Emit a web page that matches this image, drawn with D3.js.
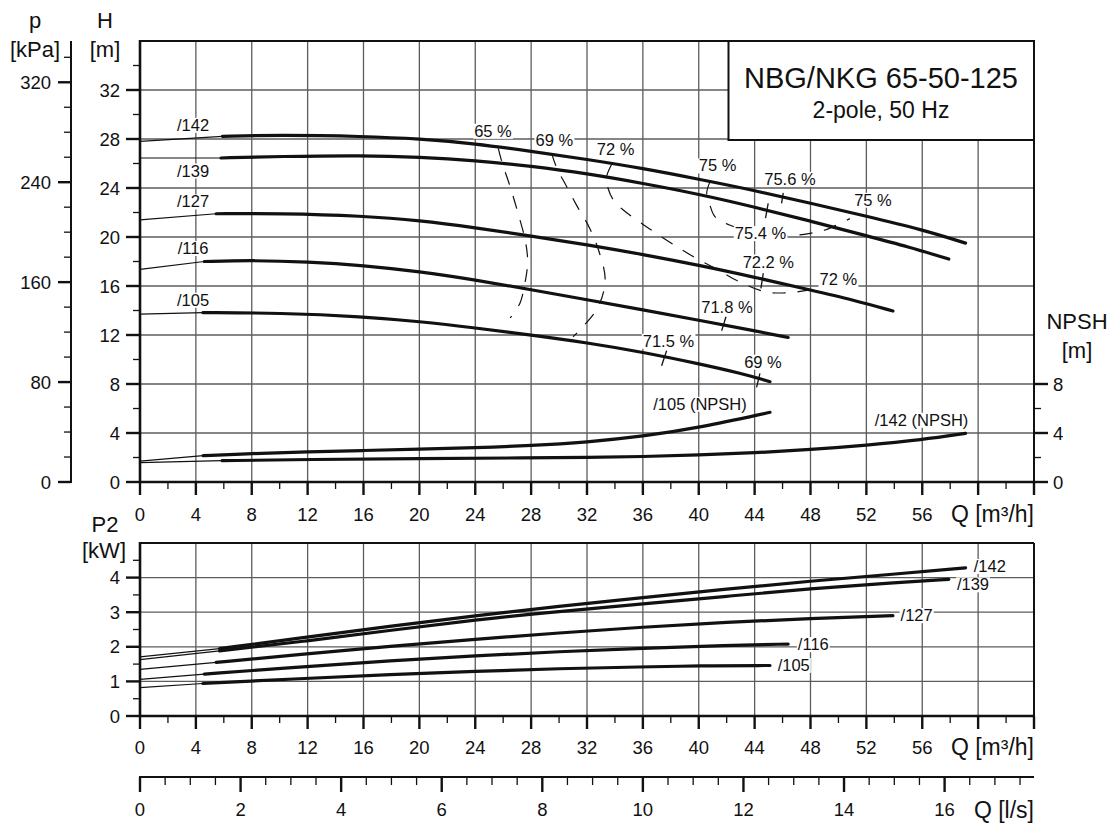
<!DOCTYPE html>
<html><head><meta charset="utf-8">
<script src="https://cdn.jsdelivr.net/npm/d3@7"></script>
<style>
html,body{margin:0;padding:0;background:#fff;}
svg text{font-family:"Liberation Sans",Arial,Helvetica,sans-serif;fill:#111;}
</style></head><body>
<svg id="c" width="1115" height="825"></svg>
<script>
// ---------- tick labels ----------
const qTickLabels = [0,4,8,12,16,20,24,28,32,36,40,44,48,52,56];
const hTickLabels = [0,4,8,12,16,20,24,28,32];
const pTickLabels = [0,80,160,240,320];
const npshTickLabels = [0,4,8];
const p2TickLabels = [0,1,2,3,4];
const lsTickLabels = [0,2,4,6,8,10,12,14,16];

// ---------- series: [Q m3/h, value]; first point = zero-flow (thin extension) ----------
const impellers = ["/142","/139","/127","/116","/105"];
const head142 = [[0,27.8],[5.9,28.22],[10,28.33],[16,28.22],[20,28.02],[24,27.62],[28,27.0],[32,26.34],[36,25.6],[40,24.72],[44,23.8],[48,22.75],[52,21.7],[56,20.6],[59.1,19.5]];
const head139 = [[0,26.45],[5.8,26.45],[10,26.58],[16,26.66],[20,26.53],[24,26.25],[28,25.78],[32,25.18],[36,24.38],[40,23.5],[44,22.45],[48,21.3],[52,20.1],[55,19.2],[57.9,18.2]];
const head127 = [[0,21.4],[5.45,21.9],[10,21.93],[16,21.72],[20,21.36],[24,20.76],[28,20.08],[32,19.38],[36,18.58],[40,17.7],[44,16.72],[48,15.67],[51,14.88],[53.9,13.96]];
const head116 = [[0,17.35],[4.6,18.0],[8,18.1],[12,17.98],[16,17.68],[20,17.18],[24,16.5],[28,15.7],[32,14.88],[36,14.05],[40,13.2],[44,12.35],[46.4,11.8]];
const head105 = [[0,13.7],[4.5,13.83],[10,13.8],[16,13.5],[20,13.1],[24,12.58],[28,12.0],[32,11.37],[36,10.6],[40,9.65],[43,8.88],[45.1,8.19]];

const npsh105 = [[0,1.71],[4.52,2.15],[8,2.33],[12,2.46],[16,2.57],[20,2.68],[24,2.8],[28,2.97],[32,3.25],[36,3.72],[40,4.42],[45.1,5.69]];
const npsh142 = [[0,1.58],[5.88,1.74],[12,1.84],[20,1.92],[28,1.97],[32,2.0],[36,2.07],[40,2.2],[44,2.38],[48,2.65],[52,3.0],[56,3.45],[59.1,3.97]];

const power142 = [[0,1.71],[5.7,1.95],[12,2.28],[18,2.6],[24,2.9],[30,3.17],[36,3.42],[42,3.67],[48,3.9],[54,4.1],[59.1,4.28]];
const power139 = [[0,1.63],[5.7,1.88],[12,2.17],[18,2.48],[24,2.78],[30,3.02],[36,3.24],[42,3.46],[48,3.68],[54,3.85],[57.9,3.95]];
const power127 = [[0,1.35],[5.45,1.55],[11.45,1.78],[18,2.02],[24,2.22],[30,2.4],[36,2.57],[42,2.71],[48,2.82],[53.9,2.9]];
const power116 = [[0,1.06],[4.6,1.21],[11.45,1.42],[18,1.6],[24,1.74],[30,1.86],[36,1.96],[42,2.04],[46.4,2.08]];
const power105 = [[0,0.82],[4.5,0.94],[11.45,1.08],[18,1.2],[24,1.29],[30,1.37],[36,1.42],[40,1.45],[45.1,1.46]];

// efficiency iso-lines [Q, H]
const eff65 = [[25.65,27.24],[25.9,26.15],[26.5,24.1],[27.1,21.8],[27.6,19.6],[27.75,18.0],[27.6,16.5],[27.2,14.6],[26.5,13.4]];
const eff69 = [[29.47,26.83],[29.8,25.74],[30.5,24.2],[31.25,22.6],[32.2,20.7],[32.9,18.67],[33.3,16.5],[32.8,14.3],[31.6,12.55],[31.0,11.86]];
const eff72 = [[33.8,26.0],[33.4,24.9],[33.5,24.0],[33.9,23.0],[34.6,22.2],[36.3,20.8],[37.9,19.6],[39.6,18.4],[41.4,17.3],[42.9,16.35],[44.9,15.5],[46.9,15.5],[48.0,15.7]];
const eff75 = [[40.8,24.5],[40.57,23.57],[40.8,22.6],[41.16,21.66],[42.2,20.98],[44.4,20.3],[46.3,20.1],[47.96,20.3],[49.03,20.57],[50.82,21.5]];
// short best-efficiency marks on the curves [Q,H] pairs
const effTicks = [
  [[46.05,23.6],[45.93,22.75]],
  [[44.97,22.75],[44.78,21.55]],
  [[44.62,17.04],[44.45,15.81]],
  [[41.95,13.49],[41.64,12.35]],
  [[37.7,10.72],[37.34,9.49]],
  [[44.38,8.87],[44.14,7.73]]
];
const effLabelText = ["65 %","69 %","72 %","75 %","75.6 %","75 %","75.4 %","72.2 %","72 %","71.8 %","71.5 %","69 %"];
const effLabelQ    = [25.27,29.66,34.05,41.35,46.53,52.47,44.42,44.98,49.99,42.02,37.83,44.6];
const effLabelH    = [28.65,27.92,27.18,25.82,24.73,23.02,20.3,17.98,16.55,14.29,11.51,9.8];

const headLabelQ = 3.8;
const headLabelH = [29.14,25.41,22.88,19.08,14.86];
const npshLabelText = ["/105 (NPSH)","/142 (NPSH)"];
const npshLabelQ = [40.09,55.95];
const npshLabelH = [6.37,5.06];
const powerLabelQ = [60.84,59.63,55.6,48.2,46.8];
const powerLabelP = [4.33,3.8,2.91,2.07,1.47];

// ---------- scales ----------
const svg = d3.select("#c");
const x   = d3.scaleLinear().domain([0,64]).range([140,1034]);
const yH  = d3.scaleLinear().domain([0,36]).range([482,41]);
const yKpa= d3.scaleLinear().domain([0,36*9.80665]).range([482,41]);
const yPw = d3.scaleLinear().domain([0,5]).range([716,543]);
const xLs = d3.scaleLinear().domain([0,64/3.6]).range([140,1034]);

const gGrid = svg.append("g");
const gEff = svg.append("g");
const gLab = svg.append("g");
const gCurve = svg.append("g");
const gAx = svg.append("g");

const GRID = "#5c5c5c";
d3.range(4,64,4).forEach(q=>{
  gGrid.append("line").attr("x1",x(q)).attr("x2",x(q)).attr("y1",yH(0)).attr("y2",yH(36)).attr("stroke",GRID).attr("stroke-width",1.3);
  gGrid.append("line").attr("x1",x(q)).attr("x2",x(q)).attr("y1",yPw(0)).attr("y2",yPw(5)).attr("stroke",GRID).attr("stroke-width",1.3);
});
d3.range(4,36,4).forEach(h=>{
  gGrid.append("line").attr("x1",x(0)).attr("x2",x(64)).attr("y1",yH(h)).attr("y2",yH(h)).attr("stroke",GRID).attr("stroke-width",1.3);
});
[1,2,3,4].forEach(p=>{
  gGrid.append("line").attr("x1",x(0)).attr("x2",x(64)).attr("y1",yPw(p)).attr("y2",yPw(p)).attr("stroke",GRID).attr("stroke-width",1.3);
});

// title box
gGrid.append("rect").attr("x",728.5).attr("y",41).attr("width",1034-728.5).attr("height",99).attr("fill","#fff").attr("stroke","#111").attr("stroke-width",2);
gGrid.append("text").attr("x",881).attr("y",88).attr("text-anchor","middle").style("font-size","29px").text("NBG/NKG 65-50-125");
gGrid.append("text").attr("x",881).attr("y",118).attr("text-anchor","middle").style("font-size","23px").text("2-pole, 50 Hz");

// ---------- curve helpers ----------
function drawCurve(data, ys){
  const thin = d3.line().x(d=>x(d[0])).y(d=>ys(d[1]));
  gCurve.append("path").attr("d",thin(data.slice(0,2))).attr("fill","none").attr("stroke","#111").attr("stroke-width",1.2);
  const thick = d3.line().x(d=>x(d[0])).y(d=>ys(d[1])).curve(d3.curveBasis);
  gCurve.append("path").attr("d",thick(data.slice(1))).attr("fill","none").attr("stroke","#111").attr("stroke-width",3.2).attr("stroke-linecap","round");
}
function label(text, px, py, size, anchor){
  const t = gLab.append("text").attr("x",px).attr("y",py).attr("dy","0.35em")
    .attr("text-anchor",anchor||"middle").style("font-size",size+"px").text(text);
  const b = t.node().getBBox();
  gLab.insert("rect",()=>t.node()).attr("x",b.x-1).attr("y",b.y+2).attr("width",b.width+2).attr("height",b.height-3).attr("fill","#fff");
}

// efficiency lines
const effLine = d3.line().x(d=>x(d[0])).y(d=>yH(d[1])).curve(d3.curveCatmullRom.alpha(0.5));
[eff65,eff69,eff72,eff75].forEach(e=>{
  gEff.append("path").attr("d",effLine(e)).attr("fill","none").attr("stroke","#111").attr("stroke-width",1.2).attr("stroke-dasharray","13,12");
});

// curves
[head142,head139,head127,head116,head105].forEach(d=>drawCurve(d,yH));
[npsh105,npsh142].forEach(d=>drawCurve(d,yH));
[power142,power139,power127,power116,power105].forEach(d=>drawCurve(d,yPw));

const tickLine = d3.line().x(d=>x(d[0])).y(d=>yH(d[1]));
effTicks.forEach(t=>gCurve.append("path").attr("d",tickLine(t)).attr("stroke","#111").attr("stroke-width",1.3).attr("fill","none"));

// labels
impellers.forEach((n,i)=>label(n, x(headLabelQ), yH(headLabelH[i]), 16.5));
effLabelText.forEach((t,i)=>label(t, x(effLabelQ[i]), yH(effLabelH[i]), 16.5));
npshLabelText.forEach((t,i)=>label(t, x(npshLabelQ[i]), yH(npshLabelH[i]), 16.5));
impellers.forEach((n,i)=>label(n, x(powerLabelQ[i]), yPw(powerLabelP[i]), 16.5));

// ---------- axes ----------
function vline(g,xx,y1,y2,w){g.append("line").attr("x1",xx).attr("x2",xx).attr("y1",y1).attr("y2",y2).attr("stroke","#111").attr("stroke-width",w);}
function hline(g,y,x1,x2,w){g.append("line").attr("x1",x1).attr("x2",x2).attr("y1",y).attr("y2",y).attr("stroke","#111").attr("stroke-width",w);}
function txt(s,px,py,size,anchor){gAx.append("text").attr("x",px).attr("y",py).attr("text-anchor",anchor||"middle").style("font-size",size+"px").text(s);}

hline(gAx,yH(36),x(0),x(64),2); vline(gAx,x(64),yH(36),yH(0),2);
vline(gAx,x(0),yH(36)-1,yH(0)+1,2.6); hline(gAx,yH(0),x(0)-1,x(64)+1,2.6);
hline(gAx,yPw(5),x(0),x(64),2); vline(gAx,x(64),yPw(5),yPw(0),2);
vline(gAx,x(0),yPw(5)-1,yPw(0)+1,2.6); hline(gAx,yPw(0),x(0)-1,x(64)+1,2.6);

d3.range(0,35,2).forEach(h=>hline(gAx,yH(h),x(0)-(h%4===0?14:7),x(0),h%4===0?2.4:1.3));
hTickLabels.forEach(h=>txt(h,120,yH(h)+6.5,18.5,"end"));
vline(gAx,71,yKpa(0)+1,yH(36),2);
d3.range(0,341,20).forEach(p=>hline(gAx,yKpa(p),p%80===0?58:64,71,p%80===0?2.4:1.3));
pTickLabels.forEach(p=>txt(p,51,yKpa(p)+6.5,18.5,"end"));
d3.range(0,9,2).forEach(h=>hline(gAx,yH(h),x(64),x(64)+(h%4===0?14:7),h%4===0?2.4:1.3));
npshTickLabels.forEach(h=>txt(h,1053,yH(h)+6.5,18.5,"start"));
d3.range(0,4.6,0.5).forEach(p=>hline(gAx,yPw(p),x(0)-(p%1===0?14:7),x(0),p%1===0?2.4:1.3));
p2TickLabels.forEach(p=>txt(p,120,yPw(p)+6.5,18.5,"end"));
d3.range(0,65,2).forEach(q=>{
  vline(gAx,x(q),yH(0),yH(0)+(q%4===0?13:7),q%4===0?2.4:1.3);
  vline(gAx,x(q),yPw(0),yPw(0)+(q%4===0?13:7),q%4===0?2.4:1.3);
});
qTickLabels.forEach(q=>{txt(q,x(q),521,18.5); txt(q,x(q),754,18.5);});
txt("Q [m³/h]",1034,522,23,"end");
txt("Q [m³/h]",1034,755,23,"end");
hline(gAx,777,xLs(0)-1,x(64),2);
d3.range(0,17.6,0.5).forEach(v=>vline(gAx,xLs(v),777,777+(v%2===0?15:8),v%2===0?2.4:1.3));
lsTickLabels.forEach(v=>txt(v,xLs(v),816,18.5));
txt("Q [l/s]",1034,818,23,"end");

txt("p",35,28,22); txt("[kPa]",35,57,22);
txt("H",105,28,22); txt("[m]",105,57,22);
txt("P2",105,532,22); txt("[kW]",104,558,22);
txt("NPSH",1077,329,22); txt("[m]",1077,358,22);
</script>
</body></html>
